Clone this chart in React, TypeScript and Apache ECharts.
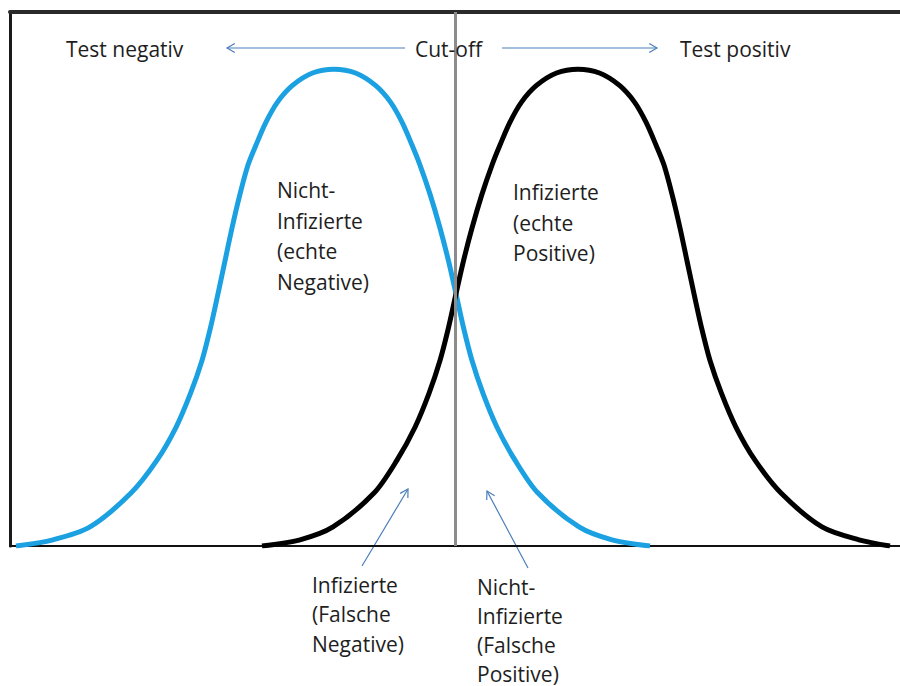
import React, { useEffect, useRef } from "react";
import * as echarts from "echarts";

// Curve readings: [x, relative height] (height in % of peak)
const nichtInfizierte: [number, number][] = [
  [0.6, 0], [4.3, 1.3], [8.0, 4.0], [12.1, 11.1], [14.7, 18.0], [16.6, 24.9], [18.05, 32.0],
  [19.2, 38.9], [20.05, 45.8], [20.8, 52.9], [21.5, 59.8], [22.2, 66.7], [23.0, 73.8],
  [23.8, 79.9], [24.6, 84.1], [25.6, 88.9], [26.75, 93.1], [28.25, 96.6], [30.25, 99.2],
  [32.4, 100],
  [34.55, 99.2], [36.55, 96.6], [38.05, 93.1], [39.2, 88.9], [40.2, 84.1], [41.0, 79.9],
  [42.0, 73.8], [43.0, 66.7], [43.85, 59.8], [44.6, 52.9], [45.35, 45.8], [46.2, 38.9],
  [47.3, 32.0], [48.7, 24.9], [50.5, 18.0], [52.8, 11.1], [56.9, 4.0], [60.2, 1.3], [64.0, 0],
];
const infizierte: [number, number][] = [
  [25.2, 0], [29.0, 1.3], [32.3, 4.0], [36.4, 11.1], [38.7, 18.0], [40.5, 24.9], [41.9, 32.0],
  [43.0, 38.9], [43.85, 45.8], [44.6, 52.9], [45.35, 59.8], [46.2, 66.7], [47.2, 73.8],
  [48.2, 79.9], [49.0, 84.1], [50.0, 88.9], [51.15, 93.1], [52.65, 96.6], [54.65, 99.2],
  [56.8, 100],
  [58.95, 99.2], [60.95, 96.6], [62.45, 93.1], [63.6, 88.9], [64.6, 84.1], [65.4, 79.9],
  [66.2, 73.8], [67.0, 66.7], [67.7, 59.8], [68.4, 52.9], [69.15, 45.8], [70.0, 38.9],
  [71.15, 32.0], [72.6, 24.9], [74.5, 18.0], [77.1, 11.1], [81.2, 4.0], [84.9, 1.3], [88.0, 0],
];
const cutOff = 44.5;
const xRange = [0, 89];
const yRange = [0, 112];

const topLabels = ["Test negativ", "Cut-off", "Test positiv"];
const curveLabels = ["Nicht-\nInfizierte\n(echte\nNegative)", "Infizierte\n(echte\nPositive)"];
const bottomLabels = ["Infizierte\n(Falsche\nNegative)", "Nicht-\nInfizierte\n(Falsche\nPositive)"];

const FONT = '"Open Sans", "Noto Sans", sans-serif';
const TXT = "#1e1e1e";
const ARROW = "#4a7ebb";

function arrow(x1: number, y1: number, x2: number, y2: number): any[] {
  const dx = x2 - x1;
  const dy = y2 - y1;
  const len = Math.sqrt(dx * dx + dy * dy);
  const bx = -dx / len;
  const by = -dy / len;
  const h = 9;
  const rot = (a: number) => [
    x2 + h * (bx * Math.cos(a) - by * Math.sin(a)),
    y2 + h * (bx * Math.sin(a) + by * Math.cos(a)),
  ];
  const style = { stroke: ARROW, lineWidth: 1.2, fill: null };
  return [
    { type: "line", shape: { x1, y1, x2, y2 }, style },
    { type: "polyline", shape: { points: [rot(Math.PI / 6), [x2, y2], rot(-Math.PI / 6)] }, style },
  ];
}

function text(str: string, x: number, y: number, multi = false, lh = 30.5): any {
  return {
    type: "text",
    x,
    y,
    style: {
      text: str,
      fill: TXT,
      font: `21px ${FONT}`,
      lineHeight: lh,
      verticalAlign: multi ? "top" : "middle",
      align: "left",
    },
    z: 10,
  };
}

export default function App() {
  const ref = useRef<HTMLDivElement>(null);
  useEffect(() => {
    if (!ref.current) return;
    const chart = echarts.init(ref.current, null, { renderer: "svg" });
    chart.setOption({
      animation: false,
      backgroundColor: "#ffffff",
      grid: { left: 10, right: 0, top: 12, bottom: 140, containLabel: false },
      xAxis: [
        {
          type: "value",
          min: xRange[0],
          max: xRange[1],
          position: "bottom",
          axisLine: { show: true, onZero: false, lineStyle: { color: "#111", width: 2 } },
          axisTick: { show: false },
          axisLabel: { show: false },
          splitLine: { show: false },
        },
        {
          type: "value",
          min: xRange[0],
          max: xRange[1],
          position: "top",
          axisLine: { show: true, onZero: false, lineStyle: { color: "#2a2a2a", width: 4 } },
          axisTick: { show: false },
          axisLabel: { show: false },
          splitLine: { show: false },
        },
      ],
      yAxis: {
        type: "value",
        min: yRange[0],
        max: yRange[1],
        axisLine: { show: true, onZero: false, lineStyle: { color: "#1a1a1a", width: 3 } },
        axisTick: { show: false },
        axisLabel: { show: false },
        splitLine: { show: false },
      },
      series: [
        {
          type: "line",
          data: [],
          z: 1,
          markLine: {
            silent: true,
            symbol: "none",
            label: { show: false },
            lineStyle: { color: "#8c8c8c", width: 3, type: "solid" },
            data: [{ xAxis: cutOff }],
          },
        },
        {
          name: "Nicht-Infizierte",
          type: "line",
          data: nichtInfizierte,
          smooth: 0.3,
          symbol: "none",
          z: 2,
          lineStyle: { color: "#1ba1e2", width: 5 },
        },
        {
          name: "Infizierte",
          type: "line",
          data: infizierte,
          smooth: 0.3,
          symbol: "none",
          z: 3,
          lineStyle: { color: "#000000", width: 5 },
        },
      ],
      graphic: [
        text(topLabels[0], 66, 49),
        text(topLabels[1], 415, 49),
        text(topLabels[2], 680, 49),
        text(curveLabels[0], 277, 175, true),
        text(curveLabels[1], 513, 177, true),
        text(bottomLabels[0], 312, 570, true, 29.5),
        text(bottomLabels[1], 477, 572, true, 29),
        ...arrow(405, 48, 227, 48),
        ...arrow(502, 48, 657, 48),
        ...arrow(362, 566, 408, 489),
        ...arrow(528, 568, 487, 491),
      ],
    });
    return () => chart.dispose();
  }, []);
  return (
    <div
      ref={ref}
      style={{ position: "fixed", left: 0, top: 0, width: 900, height: 686 }}
    />
  );
}
